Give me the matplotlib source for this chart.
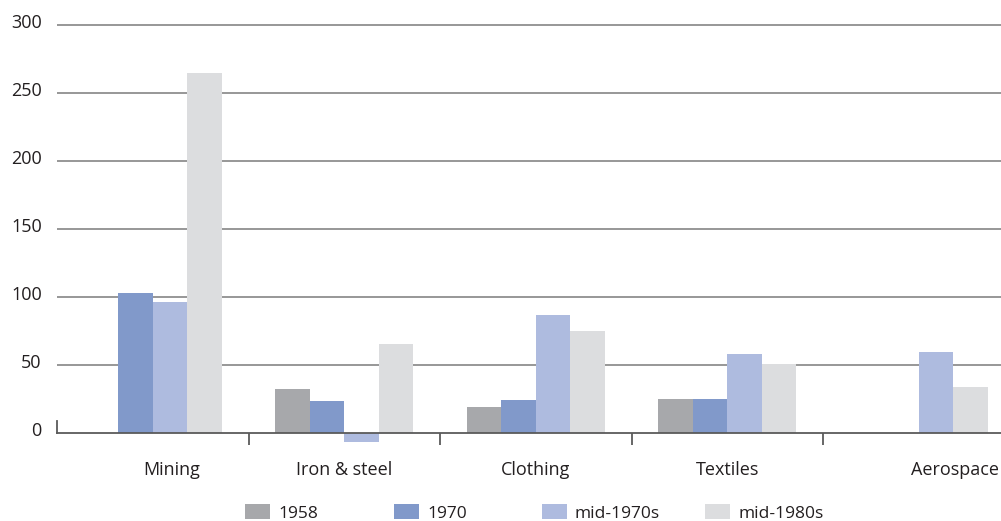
import matplotlib
matplotlib.use("Agg")
import matplotlib.pyplot as plt
import matplotlib.transforms as mtransforms
from matplotlib.patches import Patch
import numpy as np

categories = ["Mining", "Iron & steel", "Clothing", "Textiles", "Aerospace"]
series_names = ["1958", "1970", "mid-1970s", "mid-1980s"]
v1958 = [np.nan, 32.5, 19.5, 25.3, np.nan]
v1970 = [103, 23.7, 24.5, 25.3, np.nan]
vmid70 = [96.5, -6.4, 87, 58.3, 59.8]
vmid80 = [265, 65.7, 75.3, 51, 34]
yticks = [0, 50, 100, 150, 200, 250, 300]

colors = ["#a7a8ab", "#8199ca", "#aebbdf", "#dcdddf"]
label_offsets = [0.1, 0.0, 0.0, 0.0, 0.19]

plt.rcParams['font.family'] = ['Open Sans', 'DejaVu Sans']
fs = 13

fig = plt.figure(figsize=(10.01, 5.21), dpi=100)
W, H = 1001, 521
x0_px, xr_px = 57, 1014.5
y0_px, y300_px = 433.3, 25
ylo, yhi = 0, 310
ppu = (y0_px - y300_px) / 300.0
ax_bottom_px = y0_px
ax_top_px = y0_px - (yhi) * ppu
ax = fig.add_axes([x0_px / W, 1 - ax_bottom_px / H, (xr_px - x0_px) / W, (ax_bottom_px - ax_top_px) / H])
ax.set_xlim(-0.5, len(categories) - 0.5)
ax.set_ylim(ylo, yhi)

x = np.arange(len(categories))
bw = 0.18
all_vals = [v1958, v1970, vmid70, vmid80]
for i, (vals, c, name) in enumerate(zip(all_vals, colors, series_names)):
    bars = ax.bar(x + (i - 1.5) * bw, vals, width=bw, color=c, edgecolor='none', zorder=3, label=name)
    for b in bars:
        b.set_clip_on(False)

for s in ax.spines.values():
    s.set_visible(False)

for yt in yticks[1:]:
    ax.axhline(yt, color="#7a7a7a", lw=1.1, zorder=1)
ax.axhline(0, color="#5a5a5a", lw=1.3, zorder=4, clip_on=False)

ax.set_yticks(yticks)
ax.set_yticklabels([str(t) for t in yticks], fontsize=fs, color="#231f20")
ax.tick_params(axis='y', length=0, pad=11)
offset = mtransforms.ScaledTranslation(0, 4.5 / 100, fig.dpi_scale_trans)
for lab in ax.get_yticklabels():
    lab.set_transform(lab.get_transform() + offset)

ax.set_xticks(np.arange(0.5, len(categories) - 0.5, 1.0))
ax.set_xticklabels([])
ax.tick_params(axis='x', length=12 * 0.72, width=1.3, color="#5a5a5a", direction='out')
ax.plot([-0.5, -0.5], [0, 12 / ppu], color="#5a5a5a", lw=1.3, clip_on=False, zorder=4)

trans = mtransforms.blended_transform_factory(ax.transData, fig.transFigure)
for xi, (cat, off) in enumerate(zip(categories, label_offsets)):
    ax.text(xi + off, 1 - 470 / H, cat, transform=trans, ha='center', va='center',
            fontsize=fs, color="#231f20")

lfs = 12.5
px_per_fs = lfs * 100 / 72
leg_x = [245, 394, 542, 705]
for name, c, lx in zip(series_names, colors, leg_x):
    lg = fig.legend(handles=[Patch(facecolor=c, edgecolor='none', label=name)],
                    loc='center left', bbox_to_anchor=(lx / W, 1 - 513 / H),
                    frameon=False, fontsize=lfs, handlelength=25 / px_per_fs,
                    handleheight=15 / px_per_fs,
                    handletextpad=8 / px_per_fs, borderpad=0, borderaxespad=0)
    for t in lg.get_texts():
        t.set_color("#231f20")

fig.savefig("out.png", dpi=100)
